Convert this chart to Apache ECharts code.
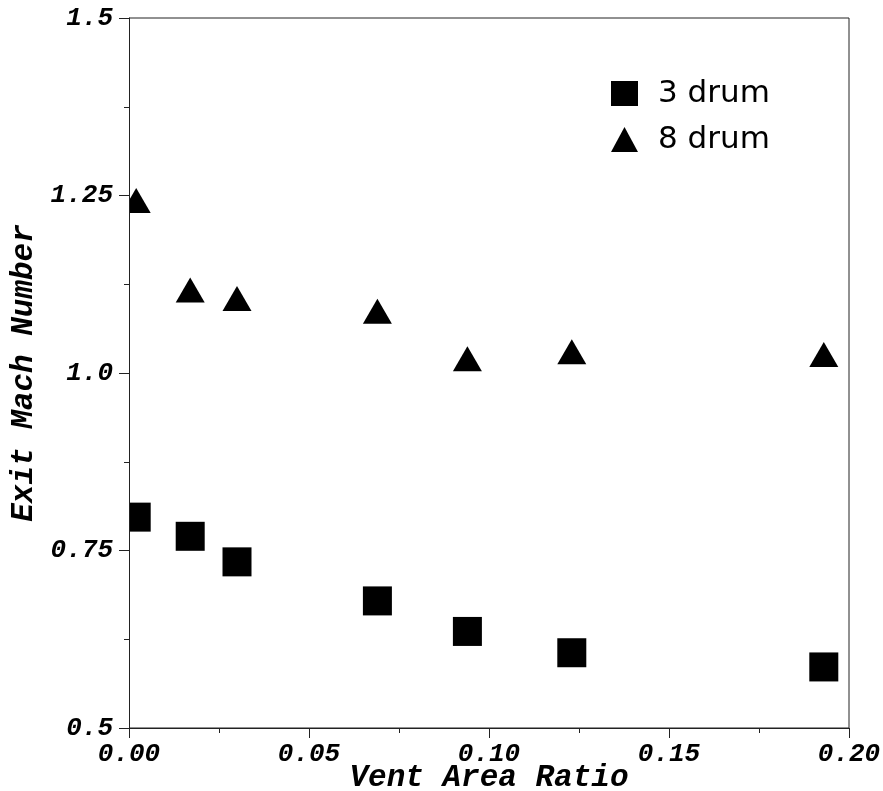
<!DOCTYPE html>
<html>
<head>
<meta charset="utf-8">
<script src="https://cdn.jsdelivr.net/npm/echarts@6/dist/echarts.min.js"></script>
<style>
html,body{margin:0;padding:0;background:#fff;}
#chart{width:883px;height:791px;}
</style>
</head>
<body>
<div id="chart"></div>
<script>
var ventRatio = [0.002, 0.017, 0.030, 0.069, 0.094, 0.123, 0.193];
var drum3 = [0.797, 0.770, 0.734, 0.679, 0.636, 0.606, 0.586];
var drum8 = [1.243, 1.117, 1.105, 1.087, 1.020, 1.030, 1.026];
var xTicks = [0, 0.05, 0.10, 0.15, 0.20];
var yTicks = [0.5, 0.75, 1.0, 1.25, 1.5];
var seriesNames = ['3 drum', '8 drum'];

var G = {left: 129, right: 34, top: 18, bottom: 63};
var monoFont = '"Liberation Mono", "DejaVu Sans Mono", monospace';

function pairs(xs, ys) { return xs.map(function (x, i) { return [x, ys[i]]; }); }

var chart = echarts.init(document.getElementById('chart'));
chart.setOption({
  animation: false,
  backgroundColor: '#fff',
  grid: {left: G.left, right: G.right, top: G.top, bottom: G.bottom, containLabel: false, outerBoundsMode: 'none',
    show: true, borderColor: '#222', borderWidth: 1, backgroundColor: 'transparent'},
  legend: {
    orient: 'vertical', left: 611, top: 78, padding: 0,
    itemWidth: 27, itemHeight: 25, itemGap: 15,
    data: [
      {name: seriesNames[0], icon: 'rect'},
      {name: seriesNames[1], icon: 'triangle'}
    ],
    textStyle: {fontFamily: '"DejaVu Sans", sans-serif', fontSize: 31, color: '#000', padding: [0, 0, 0, 15]}
  },
  xAxis: {
    type: 'value', min: 0, max: 0.2, interval: 0.05, z: 10,
    name: 'Vent Area Ratio', nameLocation: 'middle', nameGap: 35, nameMoveOverlap: false,
    nameTextStyle: {fontFamily: monoFont, fontSize: 31, fontWeight: 'bold', fontStyle: 'italic', color: '#000'},
    axisLine: {show: true, lineStyle: {color: '#222', width: 1}},
    axisTick: {show: true, length: 10, lineStyle: {color: '#222'}},
    minorTick: {show: true, splitNumber: 2, length: 5, lineStyle: {color: '#222'}},
    splitLine: {show: false},
    axisLabel: {margin: 13, fontFamily: monoFont, fontSize: 26, fontWeight: 'bold', fontStyle: 'italic', color: '#000',
      formatter: function (v) { return v.toFixed(2); }}
  },
  yAxis: {
    type: 'value', min: 0.5, max: 1.5, interval: 0.25, z: 10,
    name: 'Exit Mach Number', nameLocation: 'middle', nameGap: 89, nameMoveOverlap: false,
    nameTextStyle: {fontFamily: monoFont, fontSize: 31, fontWeight: 'bold', fontStyle: 'italic', color: '#000'},
    axisLine: {show: true, lineStyle: {color: '#222', width: 1}},
    axisTick: {show: true, length: 10, lineStyle: {color: '#222'}},
    minorTick: {show: true, splitNumber: 2, length: 5, lineStyle: {color: '#222'}},
    splitLine: {show: false},
    axisLabel: {margin: 16, fontFamily: monoFont, fontSize: 26, fontWeight: 'bold', fontStyle: 'italic', color: '#000',
      formatter: function (v) {
        var s = yTicks.filter(function (t) { return Math.abs(t - v) < 1e-9; });
        return s.length ? String(s[0] % 1 === 0 ? s[0].toFixed(1) : s[0]) : '';
      }}
  },
  series: [
    {name: seriesNames[0], type: 'scatter', symbol: 'rect', symbolSize: [29, 29], z: 2,
      itemStyle: {color: '#000', opacity: 1}, data: pairs(ventRatio, drum3)},
    {name: seriesNames[1], type: 'scatter', symbol: 'triangle', symbolSize: [29, 25], z: 2,
      itemStyle: {color: '#000', opacity: 1}, data: pairs(ventRatio, drum8)}
  ],
  graphic: {elements: [
    {type: 'rect', z: 5, silent: true,
      shape: {x: G.left - 18, y: G.top, width: 18, height: 791 - G.top - G.bottom},
      style: {fill: '#fff'}}
  ]}
});
</script>
</body>
</html>
